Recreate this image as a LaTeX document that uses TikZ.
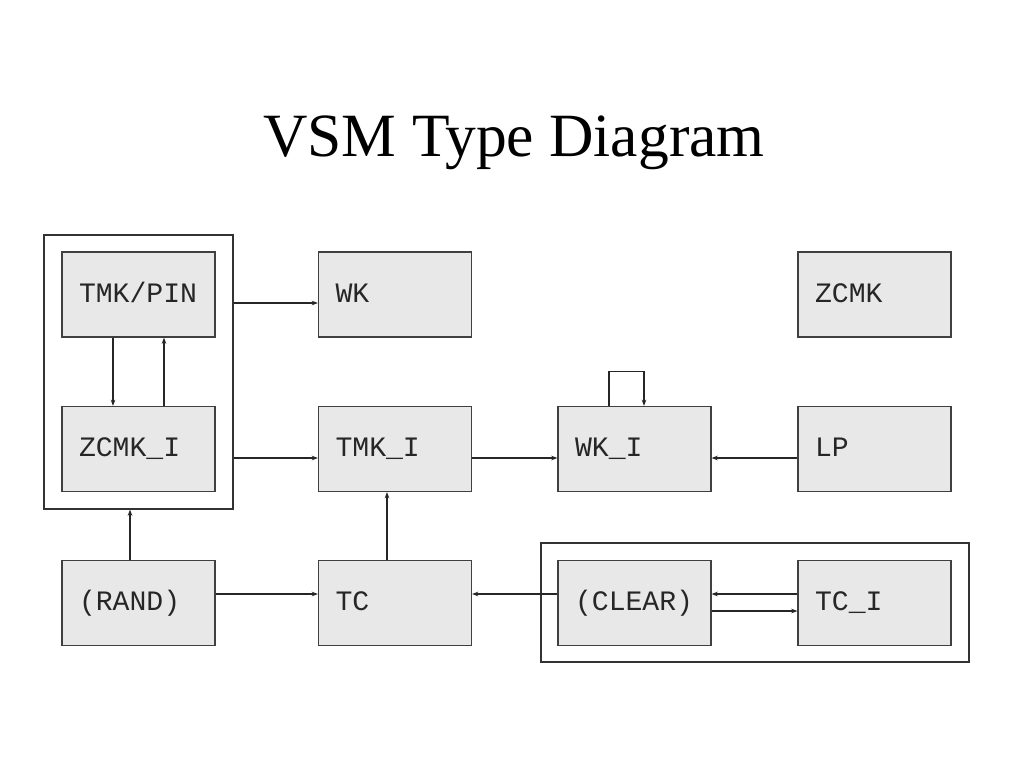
\documentclass[tikz,border=0pt]{standalone}
\usepackage{fontspec}
\setmainfont{Liberation Serif}
\setmonofont{Liberation Mono}
\usetikzlibrary{arrows.meta}
\begin{document}
\begin{tikzpicture}[x=0.02cm,y=-0.02cm,
  blk/.style={draw=black!75,line width=0.7pt,fill=gray!18,minimum width=3.06cm,minimum height=1.7cm,
    inner xsep=0.34cm,text width=2.38cm,align=left,text height=11pt,text depth=2pt,
    font=\ttfamily\fontsize{16}{18}\selectfont,text=black!85},
  grp/.style={draw=black!80,line width=0.7pt},
  conn/.style={draw=black!85,line width=0.6pt,-{Stealth[length=3.5pt,width=2.6pt]}}]
\useasboundingbox (0,0) rectangle (1024,768);
\node (title) at (514,143) {\fontsize{35}{40}\selectfont VSM Type Diagram};
\node[grp,minimum width=3.78cm,minimum height=5.48cm] (g1) at (138.5,372) {};
\node[grp,minimum width=8.56cm,minimum height=2.38cm] (g2) at (755,602.5) {};
\node[blk] (tmkpin) at (138.5,294.5) {TMK/PIN};
\node[blk] (wk) at (395,294.5) {WK};
\node[blk] (zcmk) at (874.5,294.5) {ZCMK};
\node[blk] (zcmki) at (138.5,449) {ZCMK\_I};
\node[blk] (tmki) at (395,449) {TMK\_I};
\node[blk] (wki) at (634.5,449) {WK\_I};
\node[blk] (lp) at (874.5,449) {LP};
\node[blk] (rand) at (138.5,603) {(RAND)};
\node[blk] (tc) at (395,603) {TC};
\node[blk] (clear) at (634.5,603) {(CLEAR)};
\node[blk] (tci) at (874.5,603) {TC\_I};
% connectors
\draw[conn] ([yshift=-0.17cm]tmkpin.east -| g1.east) -- ([yshift=-0.17cm]wk.west);
\draw[conn] ([xshift=-0.51cm]tmkpin.south) -- ([xshift=-0.51cm]zcmki.north);
\draw[conn] ([xshift=0.51cm]zcmki.north) -- ([xshift=0.51cm]tmkpin.south);
\draw[conn] ([yshift=-0.18cm]zcmki.east -| g1.east) -- ([yshift=-0.18cm]tmki.west);
\draw[conn] ([yshift=-0.18cm]tmki.east) -- ([yshift=-0.18cm]wki.west);
\draw[conn] ([yshift=-0.18cm]lp.west) -- ([yshift=-0.18cm]wki.east);
\coordinate (loopa) at ([xshift=-0.51cm,yshift=0.68cm]wki.north);
\coordinate (loopb) at ([xshift=0.19cm,yshift=0.68cm]wki.north);
\draw[conn] ([xshift=-0.51cm]wki.north) -- (loopa) -- (loopb) -- ([xshift=0.19cm]wki.north);
\draw[conn] ([xshift=-0.17cm]rand.north) -- ([xshift=-0.17cm]rand.north |- g1.south);
\draw[conn] ([yshift=0.18cm]rand.east) -- ([yshift=0.18cm]tc.west);
\draw[conn] ([xshift=-0.16cm]tc.north) -- ([xshift=-0.16cm]tmki.south);
\draw[conn] ([yshift=0.18cm]clear.west) -- ([yshift=0.18cm]tc.east);
\draw[conn] ([yshift=0.18cm]tci.west) -- ([yshift=0.18cm]clear.east);
\draw[conn] ([yshift=-0.16cm]clear.east) -- ([yshift=-0.16cm]tci.west);
\end{tikzpicture}
\end{document}
